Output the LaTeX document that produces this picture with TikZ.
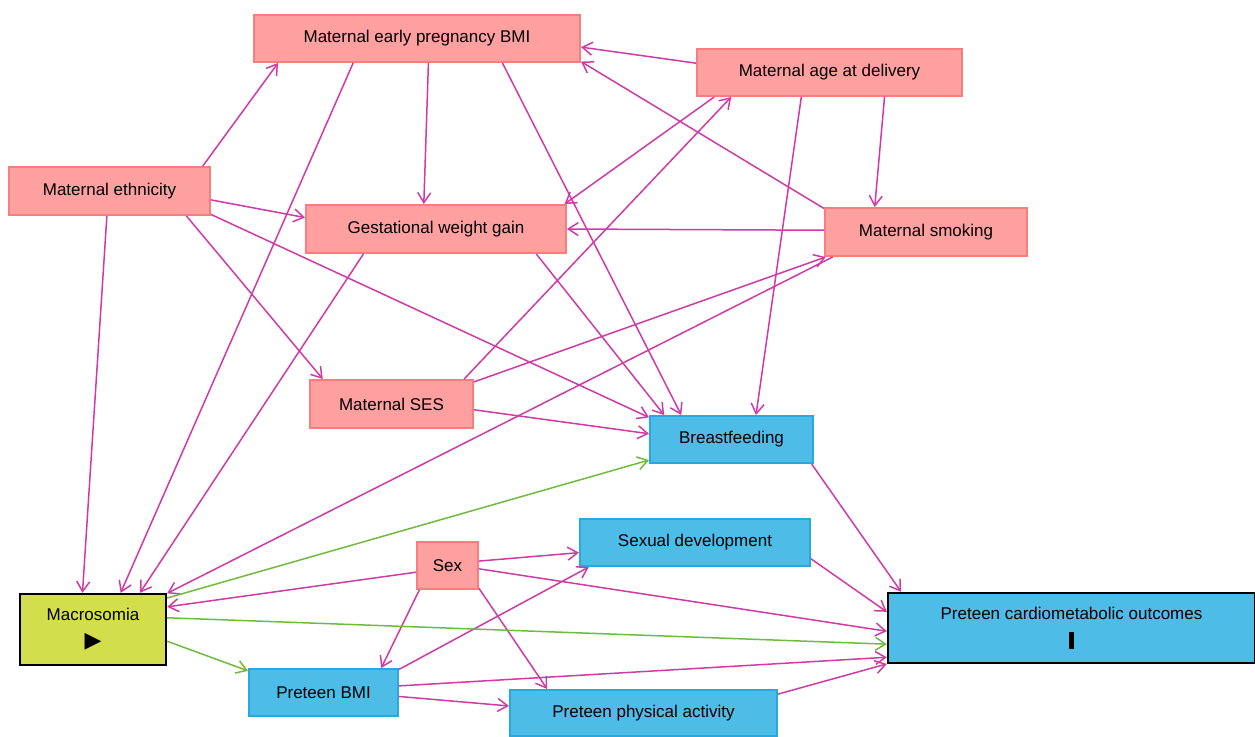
\documentclass[tikz,border=0pt]{standalone}
\usepackage{fontspec}
\setmainfont{Liberation Sans}
\newfontfamily\symfont{DejaVu Sans}
\usetikzlibrary{arrows.meta}
\definecolor{confounder}{RGB}{255,160,160}
\definecolor{confounderline}{RGB}{250,125,125}
\definecolor{mediator}{RGB}{77,189,232}
\definecolor{mediatorline}{RGB}{40,168,225}
\definecolor{exposure}{RGB}{210,222,76}
\definecolor{biaspath}{RGB}{208,58,165}
\definecolor{causalpath}{RGB}{110,188,62}

\begin{document}
\begin{tikzpicture}[x=.5pt,y=-.5pt,
  var/.style={rectangle, inner sep=0pt, font=\fontsize{8.5}{13}\selectfont, align=center},
  conf/.style={var, fill=confounder, draw=confounderline, line width=1pt},
  med/.style={var, fill=mediator, draw=mediatorline, line width=1pt},
  biased/.style={draw=biaspath, line width=.75pt, -{Straight Barb[length=5pt,width=6.5pt]}},
  causal/.style={biased, draw=causalpath}]
  \useasboundingbox (0,0) rectangle (1255,736);
  % confounders
  \node[conf, minimum width=163pt, minimum height=23.5pt] (ep) at (417,38.5) {Maternal early pregnancy BMI};
  \node[conf, minimum width=132.5pt, minimum height=23.5pt] (ag) at (829.5,72.5) {Maternal age at delivery};
  \node[conf, minimum width=100.5pt, minimum height=24pt] (et) at (109.5,191) {Maternal ethnicity};
  \node[conf, minimum width=130pt, minimum height=24pt] (gw) at (436,229) {Gestational weight gain};
  \node[conf, minimum width=101pt, minimum height=24pt] (sm) at (926,232) {Maternal smoking};
  \node[conf, minimum width=81.5pt, minimum height=24pt] (se) at (391.5,404) {Maternal SES};
  \node[conf, minimum width=30.5pt, minimum height=23.5pt] (sx) at (447.5,565.5) {Sex};
  % mediators
  \node[med, minimum width=81.5pt, minimum height=23.5pt] (bf) at (731.5,439.5) {Breastfeeding};
  \node[med, minimum width=115pt, minimum height=23.5pt] (sd) at (695,542.5) {Sexual development};
  \node[med, minimum width=74.5pt, minimum height=23.5pt] (pb) at (323.5,692.5) {Preteen BMI};
  \node[med, minimum width=133.5pt, minimum height=23pt] (pa) at (643.5,713) {Preteen physical activity};
  % exposure and outcome
  \node[var, fill=exposure, draw=black, line width=1.2pt, minimum width=73pt, minimum height=35.5pt] (ma) at (93,629.5)
    {Macrosomia\\[.5pt]{\symfont\fontsize{11}{11}\selectfont ▶}};
  \node[var, fill=mediator, draw=black, line width=1.2pt, minimum width=183.5pt, minimum height=35pt] (ou) at (1071.5,628)
    {Preteen cardiometabolic outcomes\\[1.5pt]\rule{2.5pt}{8.5pt}};
  % biasing paths
  \foreach \from/\to in {et.15/ep.-170, et.-5/gw.175, et.-18/se.160, et.-13.5/bf.165, et.-96/ma.106,
      ep.-65/gw.116.6, ep.-159/ma.53, ep.-16.4/bf.154,
      ag.176.3/ep.-3.6, ag.-24/sm.154, ag.-168.8/gw.11.1, ag.-139.5/bf.45,
      sm.167/ep.-8.9, sm.179.4/gw.-0.4, sm.-165.5/ma.26.3,
      se.15/sm.-166.5, se.19.3/ag.-166, se.-4.2/bf.176,
      gw.-161.3/ma.38.9, gw.-14.5/bf.160.8,
      sx.-168/ma.17.8, sx.8.4/sd.-175.8, sx.-6.5/ou.-179.4, sx.-139.5/pb.23.7, sx.-36.7/pa.166.9,
      pb.17.5/sd.-167.7, pb.5/ou.-171, pb.-3.5/pa.177.9,
      pa.8.9/ou.-169, sd.-8.7/ou.175.3, bf.-17.7/ou.168.3}
    {
      \draw[biased] (\from) -- (\to);
    }
  % causal paths
  \foreach \from/\to in {ma.23.3/bf.194.1, ma.9/ou.-175.9, ma.-9/pb.164.6}
    {
      \draw[causal] (\from) -- (\to);
    }
\end{tikzpicture}
\end{document}
